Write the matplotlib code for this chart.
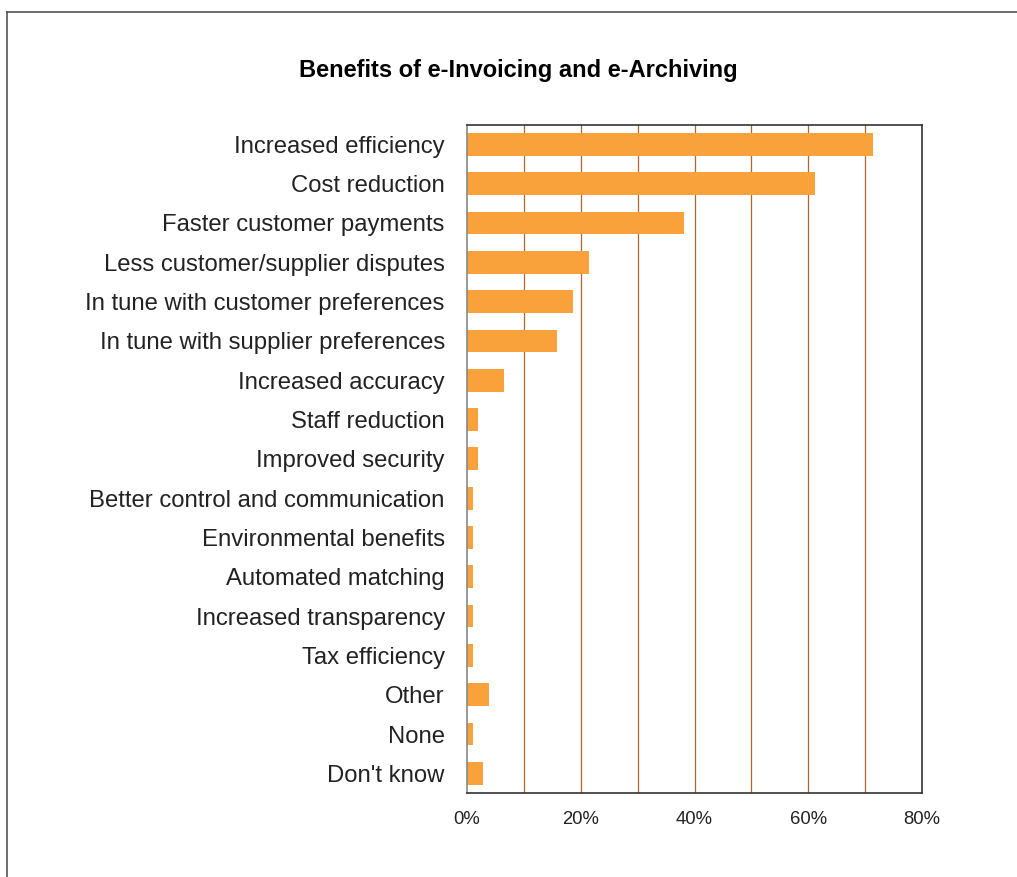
import matplotlib
matplotlib.use("Agg")
import matplotlib.pyplot as plt
from matplotlib.lines import Line2D

categories = [
    "Increased efficiency",
    "Cost reduction",
    "Faster customer payments",
    "Less customer/supplier disputes",
    "In tune with customer preferences",
    "In tune with supplier preferences",
    "Increased accuracy",
    "Staff reduction",
    "Improved security",
    "Better control and communication",
    "Environmental benefits",
    "Automated matching",
    "Increased transparency",
    "Tax efficiency",
    "Other",
    "None",
    "Don't know",
]
values = [71.4, 61.2, 38.2, 21.5, 18.6, 15.8, 6.5, 1.9, 1.9, 1.0, 1.0, 1.0, 1.0, 1.0, 3.9, 1.0, 2.8]
tick_values = [0, 20, 40, 60, 80]
tick_labels = ["0%", "20%", "40%", "60%", "80%"]
grid_values = [10, 20, 30, 40, 50, 60, 70]

plt.rcParams["font.family"] = ["Liberation Sans", "DejaVu Sans"]

fig = plt.figure(figsize=(10.17, 8.77), dpi=100)
ax = fig.add_axes([467 / 1017, 1 - 793 / 877, (922 - 467) / 1017, (793 - 124.7) / 877])

pos = list(range(len(categories)))
for g in grid_values:
    ax.axvline(g, color="#b3662c", lw=0.9, zorder=1)
ax.barh(pos, values, height=0.58, color="#f9a13a", zorder=2)

ax.set_xlim(0, 80)
ax.set_ylim(len(categories) - 0.5, -0.5)
ax.set_yticks(pos)
ax.set_yticklabels(categories, fontsize=17.2, color="#222222")
ax.set_xticks(tick_values)
ax.set_xticklabels(tick_labels, fontsize=13.3, color="#222222")
ax.tick_params(axis="both", length=0)
ax.tick_params(axis="y", pad=16)
ax.tick_params(axis="x", pad=13)
for s in ax.spines.values():
    s.set_color("#333333")
    s.set_linewidth(1.2)
ax.spines["left"].set_color("#888888")

fig.text(518 / 1017, 1 - 70 / 877, "Benefits of e-Invoicing and e-Archiving",
         ha="center", va="center", fontsize=17, fontweight="bold", color="#000000")

# outer frame lines along the top and left edges
fig.add_artist(Line2D([7 / 1017, 1.0], [1 - 12 / 877, 1 - 12 / 877],
                      transform=fig.transFigure, color="#555555", lw=1.2))
fig.add_artist(Line2D([7 / 1017, 7 / 1017], [0.0, 1 - 12 / 877],
                      transform=fig.transFigure, color="#555555", lw=1.2))

fig.savefig("out.png", dpi=100)
